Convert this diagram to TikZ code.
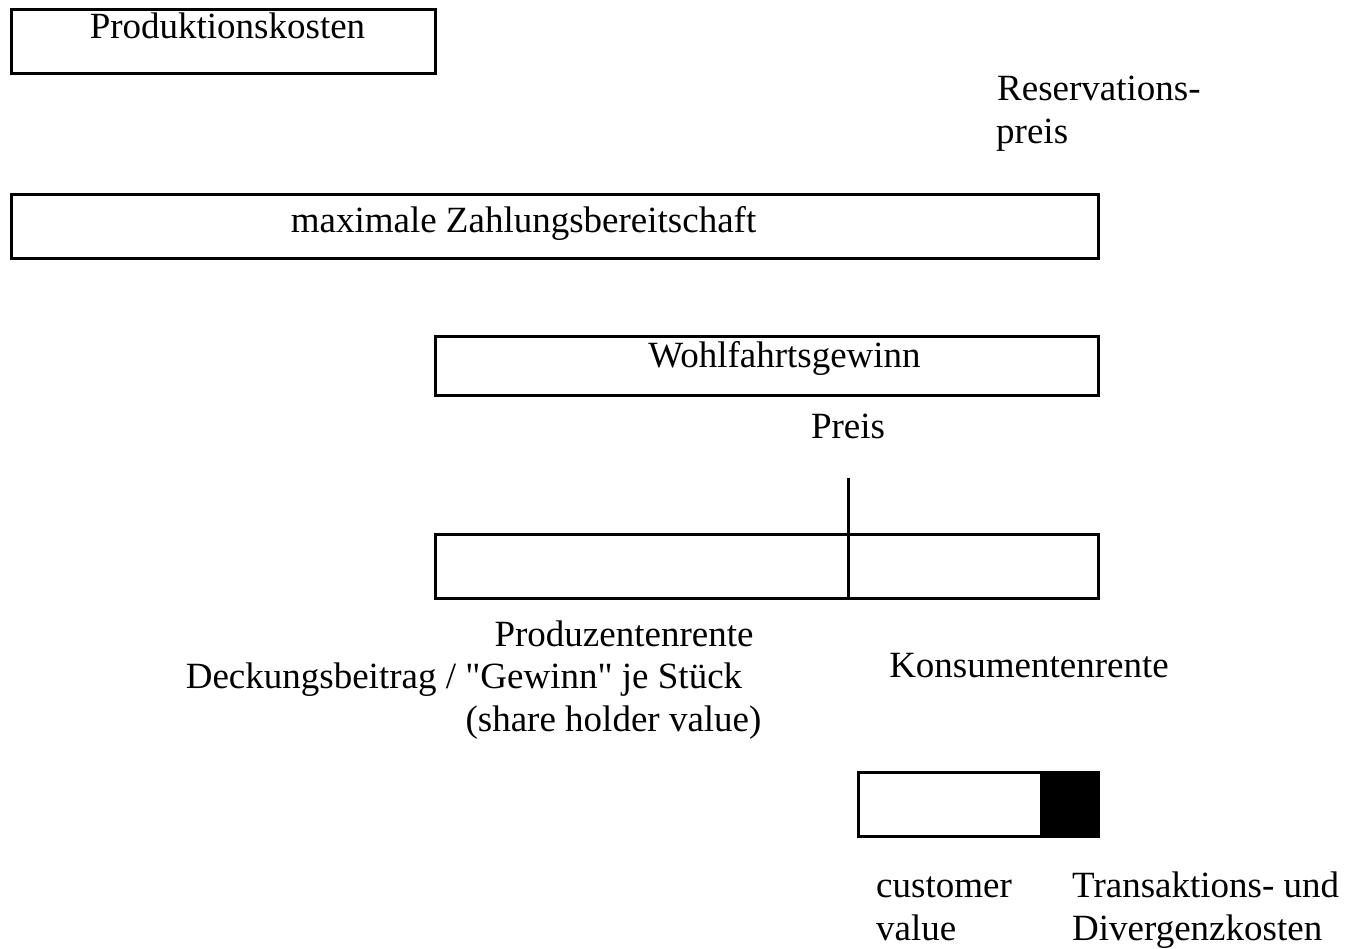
\documentclass[tikz,border=0pt]{standalone}
\usepackage{fontspec}
\setmainfont{Liberation Serif}
% same face without TeX ligature mapping, so " stays a straight quote
\newfontfamily\plainq{Liberation Serif}
\begin{document}
\begin{tikzpicture}[x=1pt,y=-1pt,
  every node/.style={font=\fontsize{37}{43}\selectfont},
  bar/.style={draw, line width=3pt, rectangle, inner sep=0pt, anchor=north west},
  lbl/.style={anchor=base, inner sep=0pt},
  lbll/.style={anchor=base west, inner sep=0pt}]
  \useasboundingbox[fill=white] (0,0) rectangle (1348,949);

  % bars
  \node[bar, minimum width=424pt, minimum height=64pt] (prod) at (10,8) {};
  \node[bar, minimum width=1087pt, minimum height=64pt] (zahl) at (10,193.5) {};
  \node[bar, minimum width=663pt, minimum height=59pt] (wohl) at (434,335) {};
  \node[bar, minimum width=663pt, minimum height=64pt] (split) at (434,533) {};
  % dark part of the small bar, then its frame on top
  \fill (1040,771) rectangle (1097,835);
  \node[bar, minimum width=240pt, minimum height=64pt] (cv) at (857,771) {};

  % price mark
  \coordinate (ptop) at (848,478);
  \coordinate (pbot) at (848,597);
  \draw[line width=3pt] (ptop) -- (pbot);

  % labels
  \node[lbl] (tprod) at (227.5,39) {Produktionskosten};
  \node[lbll] (tres1) at (997,101) {Reservations-};
  \node[lbll] (tres2) at (996,144) {preis};
  \node[lbl] (tzahl) at (523.5,233) {maximale Zahlungsbereitschaft};
  \node[lbl] (twohl) at (784.5,367) {Wohlfahrtsgewinn};
  \node[lbl] (tpreis) at (848,438) {Preis};
  \node[lbl] (tpr1) at (624,646) {Produzentenrente};
  \node[lbl] (tpr2) at (464,688) {\plainq Deckungsbeitrag / "Gewinn" je Stück};
  \node[lbl] (tpr3) at (613.5,731) {(share holder value)};
  \node[lbl] (tkr) at (1029,677) {Konsumentenrente};
  \node[lbll] (tcv1) at (876,897) {customer};
  \node[lbll] (tcv2) at (876,940) {value};
  \node[lbll] (ttk1) at (1072,897) {Transaktions- und};
  \node[lbll] (ttk2) at (1072,940) {Divergenzkosten};
\end{tikzpicture}
\end{document}
